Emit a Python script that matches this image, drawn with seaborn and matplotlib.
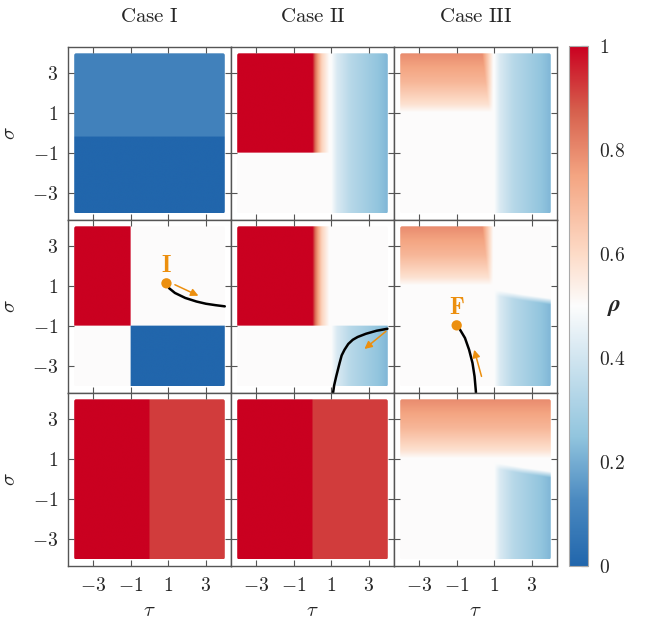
import numpy as np
import matplotlib
matplotlib.use('Agg')
import matplotlib.pyplot as plt
import seaborn as sns
from matplotlib.colors import LinearSegmentedColormap
from matplotlib.patches import FancyBboxPatch

sns.set_style('ticks')
plt.rcParams['mathtext.fontset'] = 'cm'
plt.rcParams['font.family'] = ['DejaVu Serif']

# --- data ---
cases = ['Case I', 'Case II', 'Case III']
ticks = [-3, -1, 1, 3]
cbar_ticks = [0, 0.2, 0.4, 0.6, 0.8, 1]
white = 0.5

# Case I levels
c1_top_split = -0.2          # sigma where top panel changes
c1_top_levels = [0.1, 0.0]   # above / below split
c1_mid_split = -1.0          # tau and sigma of the quadrant split
c1_bot_split = 0.0           # tau split in the bottom row
bot_levels = [1.0, 0.92]     # left / right of the split (Case I & II)

# Case II: red fade to white right of tau = 0, blue ramp right of tau = 1
fade_tau = [0.0, 0.15, 0.5, 0.9]
fade_rho = [1.0, 0.85, 0.62, 0.5]
blue_tau = [1.0, 1.3, 2.0, 4.0]
blue_rho = [0.5, 0.42, 0.34, 0.22]
c2_split_sig = -1.0

# Case III: red ramp above sigma = 1, blue block lower right
red_sig = [1.0, 1.4, 2.5, 4.0]
red_rho = [0.5, 0.58, 0.70, 0.80]
red_edge_tau = 0.95
red_width_sig = [1.0, 2.0, 4.0]
red_width = [0.2, 0.35, 0.6]
blue_edge_tau = [1.0, 2.5, 4.0]
blue_edge_sig = [0.8, 0.55, 0.35]

# trajectories
traj_I_tau = [0.9, 1.05, 1.35, 1.9, 2.5, 3.0, 3.5, 4.0]
traj_I_sig = [1.15, 0.9, 0.67, 0.42, 0.24, 0.13, 0.06, 0.0]
traj_II_tau = [3.98, 3.4, 2.84, 2.4, 2.14, 1.9, 1.70, 1.55, 1.44, 1.26, 1.15, 1.08]
traj_II_sig = [-1.12, -1.22, -1.37, -1.53, -1.67, -1.88, -2.17, -2.45, -2.83, -3.5, -3.95, -4.4]
traj_III_tau = [-1.0, -0.82, -0.56, -0.34, -0.16, -0.05, 0.02, 0.03]
traj_III_sig = [-0.95, -1.17, -1.58, -2.17, -2.83, -3.5, -4.25, -4.5]
arrow_I = [(1.35, 1.08), (2.6, 0.53)]
arrow_II = [(3.9, -1.25), (2.76, -2.13)]
arrow_III = [(0.32, -3.5), (-0.07, -2.17)]
point_I = (0.9, 1.15)
point_F = (-1.0, -0.95)

# --- fields ---
n = 400
tau = np.linspace(-4, 4, n)
sig = np.linspace(-4, 4, n)
T, S = np.meshgrid(tau, sig)


def case2_field(blue_everywhere):
    f = np.full(T.shape, white)
    red = np.interp(T, fade_tau, fade_rho)
    f = np.where(S > c2_split_sig, red, f)
    blue = np.interp(T, blue_tau, blue_rho)
    mask = (T > blue_tau[0]) & (blue_everywhere | (S < c2_split_sig))
    return np.where(mask, blue, f)


def case3_field(red_cut, blue_block):
    f = np.full(T.shape, white)
    red = np.interp(S, red_sig, red_rho)
    if red_cut:
        w = np.interp(S, red_width_sig, red_width)
        k = np.clip((red_edge_tau - T) / w, 0, 1)
        red = white + (red - white) * k
    f = np.where(S > red_sig[0], red, f)
    blue = np.interp(T, blue_tau, blue_rho)
    if blue_block:
        edge = np.interp(T, blue_edge_tau, blue_edge_sig)
        k = np.clip((edge - S) / 0.3, 0, 1)
        blue = white + (blue - white) * k
        f = np.where((T > blue_tau[0]) & (S < red_sig[0]), blue, f)
    else:
        f = np.where(T > blue_tau[0], blue, f)
    return f


fields = [
    [np.where(S > c1_top_split, c1_top_levels[0], c1_top_levels[1]),
     case2_field(True),
     case3_field(True, False)],
    [np.where((T < c1_mid_split) & (S > c1_mid_split), 1.0,
              np.where((T > c1_mid_split) & (S < c1_mid_split), 0.0, white)),
     case2_field(False),
     case3_field(True, True)],
    [np.where(T < c1_bot_split, bot_levels[0], bot_levels[1]),
     np.where(T < c1_bot_split, bot_levels[0], bot_levels[1]),
     case3_field(False, True)],
]

cmap = LinearSegmentedColormap.from_list('rho', [
    (0.0, '#2166ac'), (0.125, '#4a89c0'), (0.25, '#92c5de'), (0.4, '#d1e5f0'),
    (0.5, '#fcfcfc'), (0.6, '#fddbc7'), (0.75, '#f4a582'), (0.875, '#d6604d'),
    (1.0, '#ca0020')], N=1024)

orange = '#ec8f0e'
edge = '#555555'

fig = plt.figure(figsize=(6.48, 6.22), dpi=100)
lefts = [68 / 648, 231 / 648, 394 / 648]
bottoms = [1 - 220 / 622, 1 - 393 / 622, 1 - 566 / 622]
w, h = 163 / 648, 173.3 / 622
lim = 4.33

axes = [[None] * 3 for _ in range(3)]
for r in range(3):
    for c in range(3):
        ax = fig.add_axes([lefts[c], bottoms[r], w, h])
        axes[r][c] = ax
        im = ax.imshow(fields[r][c], origin='lower', extent=[-4, 4, -4, 4],
                       cmap=cmap, vmin=0, vmax=1, aspect='auto',
                       interpolation='bilinear')
        clip = FancyBboxPatch((-4, -4), 8, 8,
                              boxstyle='round,pad=0,rounding_size=0.1',
                              transform=ax.transData, facecolor='none',
                              edgecolor='none')
        ax.add_patch(clip)
        im.set_clip_path(clip)
        ax.set_xlim(-lim, lim)
        ax.set_ylim(-lim, lim)
        ax.set_xticks(ticks)
        ax.set_yticks(ticks)
        ax.tick_params(direction='in', top=True, right=True, length=4,
                       width=0.8, color=edge, labelsize=14)
        for sp in ax.spines.values():
            sp.set_color(edge)
            sp.set_linewidth(1.0)
        if c == 0:
            ax.set_yticklabels([rf'${t}$' for t in ticks])
            ax.set_ylabel(r'$\sigma$', fontsize=15)
            ax.yaxis.set_label_coords(-0.3, 0.5)
            ax.tick_params(axis='y', pad=7)
        else:
            ax.set_yticklabels([])
        if r == 2:
            ax.set_xticklabels([rf'${t}$' for t in ticks])
            ax.set_xlabel(r'$\tau$', fontsize=15)
            ax.xaxis.set_label_coords(0.5, -0.2)
            ax.tick_params(axis='x', pad=8)
        else:
            ax.set_xticklabels([])
        if r == 0:
            ax.set_title(rf'$\mathrm{{{cases[c].replace(" ", chr(92) + " ")}}}$',
                         fontsize=15, pad=18)

# trajectories
for ax, tx, sy, arr in [(axes[1][0], traj_I_tau, traj_I_sig, arrow_I),
                        (axes[1][1], traj_II_tau, traj_II_sig, arrow_II),
                        (axes[1][2], traj_III_tau, traj_III_sig, arrow_III)]:
    sns.lineplot(x=tx, y=sy, ax=ax, color='black', linewidth=1.8,
                 sort=False, estimator=None)
    ax.annotate('', xy=arr[1], xytext=arr[0],
                arrowprops=dict(arrowstyle='-|>', color=orange, lw=1.1,
                                mutation_scale=11, shrinkA=0, shrinkB=0))
    ax.set_xlim(-lim, lim)
    ax.set_ylim(-lim, lim)

for ax, pt, lab in [(axes[1][0], point_I, r'$\mathbf{I}$'),
                    (axes[1][2], point_F, r'$\mathbf{F}$')]:
    sns.scatterplot(x=[pt[0]], y=[pt[1]], ax=ax, color=orange, s=55,
                    edgecolor='none', zorder=5)
    ax.text(pt[0], pt[1] + 0.9, lab, color=orange, fontsize=17,
            ha='center', va='center')

# colorbar
cax = fig.add_axes([569 / 648, 1 - 566 / 622, 19 / 648, 520 / 622])
cb = fig.colorbar(im, cax=cax)
cb.set_ticks(cbar_ticks)
cb.set_ticklabels([rf'${t:g}$' for t in cbar_ticks])
cb.ax.tick_params(direction='in', length=5, width=0.8, color=edge,
                  labelsize=14, pad=8)
cb.outline.set_edgecolor('#aaaaaa')
cb.set_label(r'$\boldsymbol{\rho}$', fontsize=17, rotation=0, va='center')
cb.ax.yaxis.set_label_coords(2.4, 0.5)

fig.savefig('out.png', dpi=100)
